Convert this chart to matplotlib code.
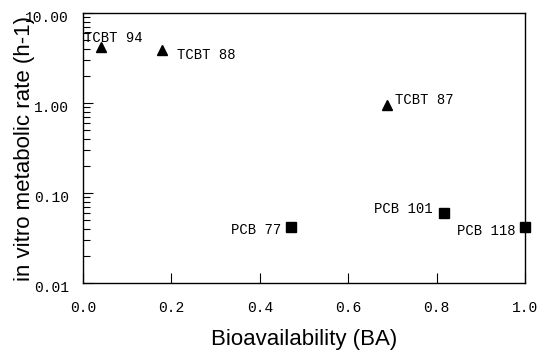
import matplotlib
matplotlib.use("Agg")
import matplotlib.pyplot as plt
import matplotlib.transforms as mtrans
from matplotlib.ticker import FixedLocator, LogLocator, NullFormatter

# datos
nombres = ["TCBT 94", "TCBT 88", "TCBT 87", "PCB 77", "PCB 101", "PCB 118"]
ba = [0.041, 0.179, 0.688, 0.47, 0.817, 1.00]
tasa = [4.2, 3.9, 0.95, 0.042, 0.060, 0.042]
marcas = ["^", "^", "^", "s", "s", "s"]
# desplazamiento de etiquetas (puntos) y alineacion
offs = [(-12, 6.5, "left"), (11, -3.6, "left"), (6, 3.6, "left"),
        (-6.5, -2, "right"), (-8, 3, "right"), (-6.5, -3, "right")]

xticks = [0.0, 0.2, 0.4, 0.6, 0.8, 1.0]
yticks = [0.01, 0.1, 1.0, 10.0]
yticklabels = ["0.01", "0.10", "1.00", "10.00"]

mono = "Liberation Mono"
sans = "Liberation Sans"

fig = plt.figure(figsize=(5.4, 3.53), dpi=100)
ax = fig.add_axes([83/540, 1-283/353, 442/540, 270/353])

for x, y, m in zip(ba, tasa, marcas):
    ax.plot(x, y, marker=m, color="black", markersize=6.5, linestyle="none", clip_on=False)

for n, x, y, (dx, dy, ha) in zip(nombres, ba, tasa, offs):
    ax.annotate(n, (x, y), xytext=(dx, dy), textcoords="offset points",
                ha=ha, va="center", fontsize=10, family=mono)

ax.set_yscale("log")
ax.set_xlim(0, 1)
ax.set_ylim(0.01, 10)
ax.xaxis.set_major_locator(FixedLocator(xticks))
ax.set_xticklabels(["%.1f" % t for t in xticks], family=mono, fontsize=10.5)
ax.yaxis.set_major_locator(FixedLocator(yticks))
ax.set_yticklabels(yticklabels, family=mono, fontsize=10.5)
ax.yaxis.set_minor_locator(LogLocator(base=10, subs=range(2, 10)))
ax.yaxis.set_minor_formatter(NullFormatter())
ax.tick_params(axis="both", which="major", direction="in", length=7, width=0.8, pad=10)
ax.tick_params(axis="y", which="minor", direction="in", length=5, width=0.8)
ax.tick_params(axis="x", pad=13)

# etiquetas y un poco mas abajo
bajar = mtrans.ScaledTranslation(0, -3/100, fig.dpi_scale_trans)
for lab in ax.get_yticklabels():
    lab.set_transform(lab.get_transform() + bajar)

for s in ax.spines.values():
    s.set_linewidth(1)

ax.set_xlabel("Bioavailability (BA)", fontsize=16, family=sans, labelpad=10)
ax.set_ylabel("in vitro metabolic rate (h-1)", fontsize=16, family=sans, labelpad=-7)

fig.savefig("out.png", dpi=100)
